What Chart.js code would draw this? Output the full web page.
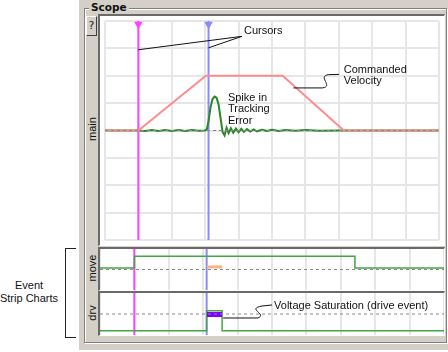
<!DOCTYPE html>
<html>
<head>
<meta charset="utf-8">
<script src="https://cdn.jsdelivr.net/npm/chart.js@4/dist/chart.umd.min.js"></script>
<style>
  body{margin:0;width:448px;height:352px;background:#fff;position:relative;overflow:hidden;font-family:"Liberation Sans",Arial,sans-serif;}
  .abs{position:absolute;}
  .panel{left:79px;top:0;width:369px;height:350px;background:#d4d0c8;border-bottom:1px solid #fff;}
  .group{left:84px;top:8px;width:361px;height:333px;border:1px solid #808080;box-shadow:1px 1px 0 #fff, inset 1px 1px 0 #fff;}
  .title{left:89px;top:1px;padding:0 2px;background:#d4d0c8;font:bold 10.5px "DejaVu Sans",sans-serif;color:#111;}
  .help{left:86px;top:16px;width:9px;height:18px;background:#d4d0c8;border:1px solid;border-color:#fff #404040 #404040 #fff;font:11px "DejaVu Sans",sans-serif;text-align:center;line-height:18px;color:#222;}
  .plot{left:98px;border-top:2px solid #6a6a6a;border-left:2px solid #6a6a6a;border-right:1px solid #fff;border-bottom:1px solid #fff;background:#fff;}
  .plot canvas{display:block;}
  .vlab{font:11px "Liberation Sans",Arial,sans-serif;color:#111;transform:translate(-50%,-50%) rotate(-90deg);white-space:nowrap;}
  .side{font:11px "Liberation Sans",Arial,sans-serif;color:#111;text-align:center;width:70px;left:-6px;top:279px;line-height:13px;}
  .brk{left:65px;top:248px;width:10px;height:88px;border:1px solid #222;border-right:none;}
</style>
</head>
<body>
<div class="abs panel"></div>
<div class="abs group"></div>
<div class="abs title">Scope</div>
<div class="abs help">?</div>
<div class="abs side">Event<br>Strip Charts</div>
<div class="abs brk"></div>
<div class="abs vlab" style="left:92px;top:129px;">main</div>
<div class="abs vlab" style="left:92px;top:268px;">move</div>
<div class="abs vlab" style="left:92px;top:313px;">drv</div>
<div class="abs plot" style="top:14px;"><canvas id="main" width="344" height="229"></canvas></div>
<div class="abs plot" style="top:247px;"><canvas id="move" width="344" height="41"></canvas></div>
<div class="abs plot" style="top:291px;"><canvas id="drv" width="344" height="42"></canvas></div>
<script>
// time axis in divisions (10 divisions across)
const cursorX = [1.0, 3.1];
const cursorColors = ['#ff44ff', '#8a8aff'];

// main: commanded velocity (red) and tracking error (green), baseline at 4
const velX = [0, 1.0, 3.02, 5.32, 7.15, 10];
const velY = [4, 4, 6, 6, 4, 4];
const errX = [0, 1.0, 1.2, 1.4, 1.6, 1.8, 2.0, 2.2, 2.4, 2.6, 2.8, 3.0, 3.05, 3.1, 3.16, 3.22, 3.28, 3.34, 3.4, 3.46, 3.52, 3.58, 3.64, 3.7, 3.77, 3.84, 3.92, 4.0, 4.08, 4.16, 4.25, 4.35, 4.45, 4.55, 4.7, 4.85, 5.0, 5.2, 5.4, 5.7, 6.0, 6.4, 7.0, 10];
const errY = [4, 4, 3.98, 4.02, 3.98, 4.02, 3.98, 4.02, 3.98, 4.02, 3.99, 4.0, 4.05, 4.35, 4.85, 5.15, 5.24, 5.2, 4.95, 4.45, 3.95, 3.82, 4.1, 3.9, 4.08, 3.92, 4.07, 3.94, 4.06, 3.95, 4.05, 3.96, 4.04, 3.97, 4.03, 3.98, 4.03, 3.98, 4.02, 3.99, 4.02, 3.99, 4.0, 4.0];

// move strip
const moveX = [0, 1.0, 1.0, 7.41, 7.41, 10];
const moveY = [2.15, 2.15, 3.3, 3.3, 2.15, 2.15];
const moveEvtX = [3.11, 3.55];
const moveEvtY = [2.25, 2.25];

// drv strip
const drvX = [0, 3.1, 3.1, 3.55, 3.55, 10];
const drvY = [0.4, 0.4, 2.3, 2.3, 0.4, 0.4];
const satX = [3.11, 3.55];
const satY = [1.95, 1.95];

const zip = (xs, ys) => xs.map((x, i) => ({x, y: ys[i]}));

const annoPlugin = {
  id: 'anno',
  afterDatasetsDraw(chart, args, opts){
    const ctx = chart.ctx, sx = chart.scales.x, sy = chart.scales.y;
    const px = v => sx.getPixelForValue(v), py = v => sy.getPixelForValue(v);
    ctx.save();
    ctx.strokeStyle = '#111'; ctx.lineWidth = 1;
    (opts.paths || []).forEach(p => {
      ctx.beginPath();
      p.forEach(c => {
        if (c[0] === 'M') ctx.moveTo(px(c[1]), py(c[2]));
        else if (c[0] === 'L') ctx.lineTo(px(c[1]), py(c[2]));
        else ctx.bezierCurveTo(px(c[1]), py(c[2]), px(c[3]), py(c[4]), px(c[5]), py(c[6]));
      });
      ctx.stroke();
    });
    ctx.fillStyle = '#111';
    ctx.font = '11px "Liberation Sans", Arial, sans-serif';
    ctx.textBaseline = 'middle'; ctx.textAlign = 'left';
    (opts.texts || []).forEach(t => ctx.fillText(t.t, px(t.x), py(t.y)));
    ctx.restore();
  }
};

function line(data, color, width, extra){
  return Object.assign({type:'line', data, borderColor:color, borderWidth:width, pointRadius:0, tension:0, fill:false}, extra || {});
}
function cursorSets(ymax){
  return cursorX.map((c, i) => line([{x:c, y:0}, {x:c, y:ymax}], cursorColors[i], 2));
}
function opts(ymax, hgrid, anno){
  return {
    responsive:false, animation:false, devicePixelRatio:1,
    layout:{padding:0},
    plugins:{legend:{display:false}, tooltip:{enabled:false}, anno},
    scales:{
      x:{type:'linear', min:0, max:10, ticks:{display:false, stepSize:1}, border:{display:false},
         grid:{color:'#e6e6e6', lineWidth:2, drawTicks:false}},
      y:{type:'linear', min:0, max:ymax, ticks:{display:false, stepSize:1}, border:{display:false},
         grid:{display:hgrid, color:'#e6e6e6', lineWidth:2, drawTicks:false}}
    }
  };
}
const dash = (ymax, y) => line([{x:0, y}, {x:10, y}], '#8a8a8a', 1, {borderDash:[3,3]});

new Chart(document.getElementById('main'), {
  type:'line',
  data:{datasets:[
    dash(8, 4),
    line(zip(velX, velY), '#ff8c8c', 2),
    line(zip(errX, errY), '#2a872a', 2),
    ...cursorSets(8),
    {type:'line', data:cursorX.map(c => ({x:c, y:7.88})), showLine:false, pointStyle:'triangle', pointRotation:180,
     pointRadius:5, pointBackgroundColor:cursorColors, pointBorderColor:cursorColors, borderWidth:0}
  ]},
  options:opts(8, true, {
    paths:[
      [['M',1.0,6.95],['L',4.1,7.44]],
      [['M',3.1,7.02],['L',4.1,7.44]],
      [['M',5.64,5.555],['L',6.51,5.555],['C',6.86,5.62,6.34,5.97,6.69,6.04],['L',7.01,6.05]]
    ],
    texts:[
      {t:'Cursors', x:4.16, y:7.62},
      {t:'Commanded', x:7.15, y:6.22},
      {t:'Velocity', x:7.15, y:5.8},
      {t:'Spike in', x:3.68, y:5.2},
      {t:'Tracking', x:3.68, y:4.78},
      {t:'Error', x:3.68, y:4.33}
    ]
  }),
  plugins:[annoPlugin]
});

new Chart(document.getElementById('move'), {
  type:'line',
  data:{datasets:[
    dash(4, 2),
    line(zip(moveEvtX, moveEvtY), '#ffb27a', 3),
    line(zip(moveX, moveY), '#45a545', 1.5),
    ...cursorSets(4)
  ]},
  options:opts(4, false, {}),
  plugins:[annoPlugin]
});

new Chart(document.getElementById('drv'), {
  type:'line',
  data:{datasets:[
    dash(4, 2),
    line(zip(satX, satY), '#8000ff', 5),
    line(zip(drvX, drvY), '#45a545', 1.5),
    ...cursorSets(4)
  ]},
  options:opts(4, false, {
    paths:[
      [['M',3.58,1.62],['L',4.59,1.62],['C',4.88,2.0,4.24,2.48,4.71,2.76],['L',5.0,2.86]]
    ],
    texts:[{t:'Voltage Saturation (drive event)', x:5.06, y:2.72}]
  }),
  plugins:[annoPlugin]
});
</script>
</body>
</html>
